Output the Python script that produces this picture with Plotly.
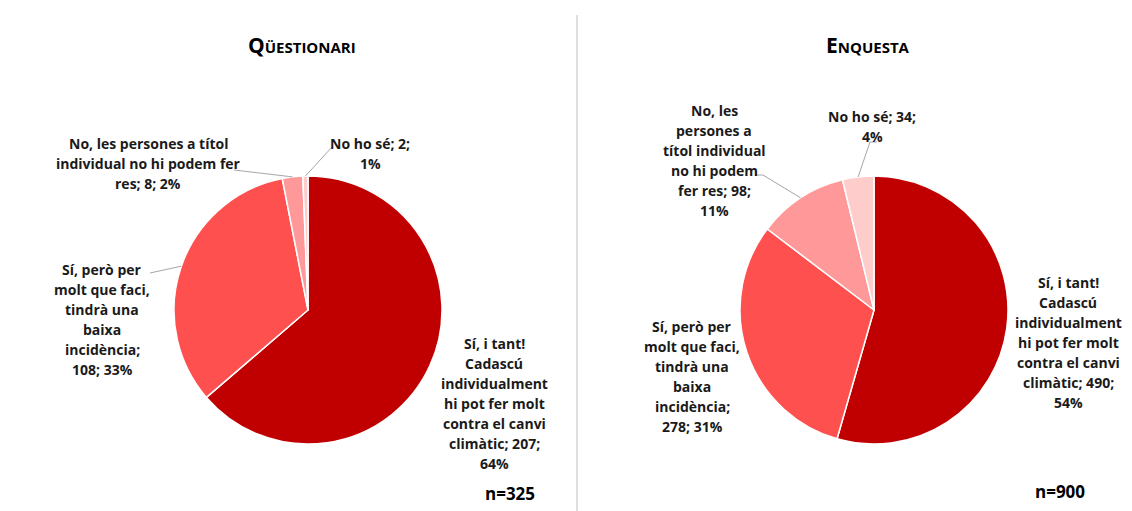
import math
import plotly.graph_objects as go

# ---------------- data ----------------
categories = [
    "Sí, i tant! Cadascú individualment hi pot fer molt contra el canvi climàtic",
    "Sí, però per molt que faci, tindrà una baixa incidència",
    "No, les persones a títol individual no hi podem fer res",
    "No ho sé",
]
questionari_values = [207, 108, 8, 2]
enquesta_values = [490, 278, 98, 34]
colors = ["#C00000", "#FF5050", "#FF9999", "#FFCCCC"]

# label wording (wrapped as in the reference); {v} value, {p} percent
questionari_labels = [
    "Sí, i tant!<br>Cadascú<br>individualment<br>hi pot fer molt<br>contra el canvi<br>climàtic; {v};<br>{p}",
    "Sí, però per<br>molt que faci,<br>tindrà una<br>baixa<br>incidència;<br>{v}; {p}",
    "No, les persones a títol<br>individual no hi podem fer<br>res; {v}; {p}",
    "No ho sé; {v};<br>{p}",
]
enquesta_labels = [
    "Sí, i tant!<br>Cadascú<br>individualment<br>hi pot fer molt<br>contra el canvi<br>climàtic; {v};<br>{p}",
    "Sí, però per<br>molt que faci,<br>tindrà una<br>baixa<br>incidència;<br>{v}; {p}",
    "No, les<br>persones a<br>títol individual<br>no hi podem<br>fer res; {v};<br>{p}",
    "No ho sé; {v};<br>{p}",
]

# ---------------- layout constants (pixels) ----------------
W, H = 1132, 511
FONT = "Open Sans"
TXT = "#1a1a1a"
LEADER = "#A6A6A6"
LINE_H = 20


def px(x):
    return x / W


def py(y):
    return 1 - y / H


pies = [
    dict(name="Qüestionari", values=questionari_values, labels=questionari_labels,
         cx=308, cy=310, r=134,
         label_pos=[(494, 403), (102, 319), (148, 163), (370, 153)],
         leaders={1: [(150, 273)], 2: [(234, 170)], 3: [(333, 146)]}),
    dict(name="Enquesta", values=enquesta_values, labels=enquesta_labels,
         cx=874, cy=310, r=134,
         label_pos=[(1068, 342), (692, 376), (714, 160), (872, 127)],
         leaders={2: [(763, 175), (755, 175)], 3: [(870, 142), (877, 142)]}),
]

fig = go.Figure()
annotations = []
shapes = []

for p in pies:
    cx, cy, r = p["cx"], p["cy"], p["r"]
    vals = p["values"]
    total = sum(vals)
    fig.add_trace(go.Pie(
        labels=categories, values=vals, sort=False, direction="clockwise",
        rotation=0, textinfo="none", hoverinfo="label+value+percent",
        marker=dict(colors=colors, line=dict(color="white", width=1.5)),
        domain=dict(x=[px(cx - r), px(cx + r)], y=[py(cy + r), py(cy - r)]),
        showlegend=False,
    ))
    cum = 0
    for i, v in enumerate(vals):
        pct = f"{round(v / total * 100)}%"
        text = p["labels"][i].format(v=v, p=pct)
        lines = text.split("<br>")
        lx, ly = p["label_pos"][i]
        n = len(lines)
        for k, line in enumerate(lines):
            yy = ly + (k - (n - 1) / 2) * LINE_H
            annotations.append(dict(
                x=px(lx), y=py(yy), xref="paper", yref="paper", text=f"<b>{line}</b>",
                showarrow=False, xanchor="center", yanchor="middle", align="center",
                font=dict(family=FONT, size=14, color=TXT)))
        mid = (cum + v / 2) / total * 2 * math.pi
        cum += v
        if i in p["leaders"]:
            sx = cx + r * math.sin(mid)
            sy = cy - r * math.cos(mid)
            pts = [(sx, sy)] + p["leaders"][i]
            path = "M " + " L ".join(f"{px(a):.5f},{py(b):.5f}" for a, b in pts)
            shapes.append(dict(type="path", path=path, xref="paper", yref="paper",
                               line=dict(color=LEADER, width=1)))

# titles
annotations.append(dict(x=px(302), y=py(45), xref="paper", yref="paper", showarrow=False,
                        xanchor="center", yanchor="middle",
                        text="<b><span style='font-size:21px'>Q</span>ÜESTIONARI</b>",
                        font=dict(family=FONT, size=15, color="#000000")))
annotations.append(dict(x=px(868), y=py(45), xref="paper", yref="paper", showarrow=False,
                        xanchor="center", yanchor="middle",
                        text="<b><span style='font-size:21px'>E</span>NQUESTA</b>",
                        font=dict(family=FONT, size=15, color="#000000")))
# sample sizes
annotations.append(dict(x=px(510), y=py(493), xref="paper", yref="paper", showarrow=False,
                        xanchor="center", yanchor="middle",
                        text=f"<b>n={sum(questionari_values)}</b>",
                        font=dict(family=FONT, size=17, color="#000000")))
annotations.append(dict(x=px(1060), y=py(491), xref="paper", yref="paper", showarrow=False,
                        xanchor="center", yanchor="middle",
                        text=f"<b>n={sum(enquesta_values)}</b>",
                        font=dict(family=FONT, size=17, color="#000000")))

# divider
shapes.append(dict(type="line", xref="paper", yref="paper", x0=px(577), x1=px(577),
                   y0=py(15), y1=0, line=dict(color="#BFBFBF", width=1)))

fig.update_layout(
    width=W, height=H, margin=dict(l=0, r=0, t=0, b=0),
    paper_bgcolor="white", plot_bgcolor="white",
    annotations=annotations, shapes=shapes,
)

fig.write_html("out.html", config={"displayModeBar": False},
               post_script="document.body.style.margin='0';")
